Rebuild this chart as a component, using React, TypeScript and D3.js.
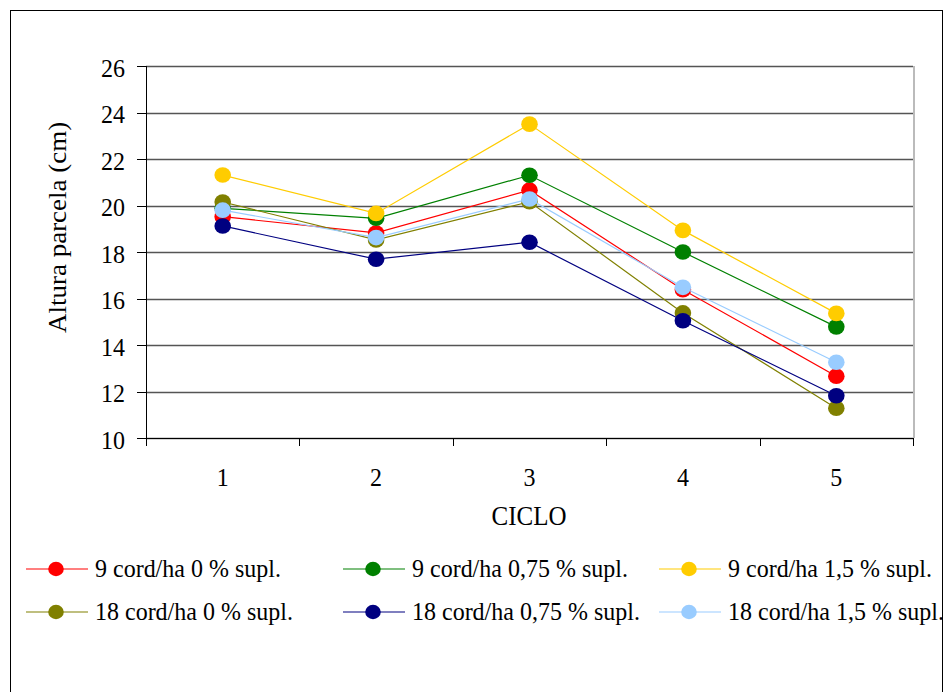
import React from "react";
import * as d3 from "d3";

const cycles = [1, 2, 3, 4, 5];
const yTicks = [10, 12, 14, 16, 18, 20, 22, 24, 26];

const seriesNames = [
  "9 cord/ha 0 % supl.",
  "9 cord/ha 0,75 % supl.",
  "9 cord/ha 1,5 % supl.",
  "18 cord/ha 0 % supl.",
  "18 cord/ha 0,75 % supl.",
  "18 cord/ha 1,5 % supl.",
];
const seriesColors = ["#FF0000", "#008000", "#FFCC00", "#808000", "#000080", "#99CCFF"];

const s9_0 = [19.52, 18.82, 20.66, 16.38, 12.66];
const s9_075 = [19.88, 19.45, 21.3, 18.0, 14.78];
const s9_15 = [21.31, 19.66, 23.5, 18.93, 15.36];
const s18_0 = [20.15, 18.52, 20.16, 15.38, 11.28];
const s18_075 = [19.12, 17.69, 18.42, 15.04, 11.82];
const s18_15 = [19.8, 18.62, 20.28, 16.48, 13.26];

const seriesValues = [s9_0, s9_075, s9_15, s18_0, s18_075, s18_15];

const W = 945;
const H = 692;
const plot = { left: 146, right: 913, top: 66, bottom: 438 };
const font = "'Liberation Serif', 'Times New Roman', serif";
const stretch = 1.08;

// Horizontal text with a slight vertical stretch, centred vertically on (x, y).
function Label({
  x,
  y,
  size,
  anchor = "start",
  children,
}: {
  x: number;
  y: number;
  size: number;
  anchor?: "start" | "middle" | "end";
  children: React.ReactNode;
}) {
  return (
    <g transform={`translate(${x},${y}) scale(1,${stretch})`}>
      <text x={0} y={0} dy="0.34em" textAnchor={anchor} fontSize={size} fontFamily={font} fill="#000">
        {children}
      </text>
    </g>
  );
}

export default function App() {
  const x = d3.scaleBand<number>().domain(cycles).range([plot.left, plot.right]);
  const y = d3.scaleLinear().domain([10, 26]).range([plot.bottom, plot.top]);
  const cx = (c: number) => (x(c) as number) + x.bandwidth() / 2;
  const line = d3
    .line<number>()
    .x((_, i) => cx(cycles[i]))
    .y((v) => y(v));

  const boundaries = cycles.map((c) => x(c) as number).concat([plot.right]);
  const py = (v: number) => Math.round(y(v)) + 0.5;

  const legendCols = [26, 343, 659];
  const legendRows = [569, 612];

  return (
    <svg
      width={W}
      height={H}
      style={{ position: "absolute", left: 0, top: 0, background: "#fff" }}
      fontFamily={font}
    >
      <rect x={10.5} y={10.5} width={932} height={700} fill="#fff" stroke="#000" strokeWidth={1} />

      {/* plot area border */}
      <line x1={plot.right + 1} x2={plot.right + 1} y1={plot.top} y2={plot.bottom} stroke="#bbb" strokeWidth={2} />

      {/* horizontal gridlines */}
      {yTicks.map((t) => (
        <line key={t} x1={plot.left} x2={plot.right} y1={py(t)} y2={py(t)} stroke="#555" strokeWidth={1.3} />
      ))}

      {/* y axis */}
      <line x1={plot.left + 0.5} x2={plot.left + 0.5} y1={plot.top} y2={plot.bottom} stroke="#000" />
      {yTicks.map((t) => (
        <g key={"yt" + t}>
          <line x1={plot.left - 9} x2={plot.left} y1={py(t)} y2={py(t)} stroke="#000" />
          <Label x={125} y={y(t) + 2} size={24} anchor="end">
            {t}
          </Label>
        </g>
      ))}

      {/* x axis */}
      <line x1={plot.left} x2={plot.right} y1={py(10)} y2={py(10)} stroke="#000" />
      {boundaries.map((b, i) => (
        <line
          key={"xb" + i}
          x1={Math.round(b) + 0.5}
          x2={Math.round(b) + 0.5}
          y1={plot.bottom}
          y2={plot.bottom + 8}
          stroke="#000"
        />
      ))}
      {cycles.map((c) => (
        <Label key={"xl" + c} x={cx(c)} y={477.5} size={24} anchor="middle">
          {c}
        </Label>
      ))}

      <Label x={529} y={516} size={25} anchor="middle">
        CICLO
      </Label>
      <g transform={`translate(57, 333) scale(1,${stretch}) rotate(-90)`}>
        <text x={0} y={0} dy="0.34em" textAnchor="start" fontSize={25} fontFamily={font}>
          Altura parcela (cm)
        </text>
      </g>

      {/* series */}
      {seriesValues.map((vals, si) => (
        <g key={"s" + si}>
          <path d={line(vals) as string} fill="none" stroke={seriesColors[si]} strokeWidth={1.2} />
          {vals.map((v, i) => (
            <ellipse key={i} cx={cx(cycles[i])} cy={y(v)} rx={8.3} ry={7.8} fill={seriesColors[si]} />
          ))}
        </g>
      ))}

      {/* legend */}
      {seriesNames.map((name, i) => {
        const lx = legendCols[i % 3];
        const ly = legendRows[Math.floor(i / 3)];
        return (
          <g key={"lg" + i}>
            <line x1={lx} x2={lx + 62} y1={ly} y2={ly} stroke={seriesColors[i]} strokeWidth={1.2} />
            <ellipse cx={lx + 30} cy={ly} rx={7.8} ry={7.2} fill={seriesColors[i]} />
            <Label x={lx + 69} y={ly - 1} size={24}>
              {name}
            </Label>
          </g>
        );
      })}
    </svg>
  );
}
